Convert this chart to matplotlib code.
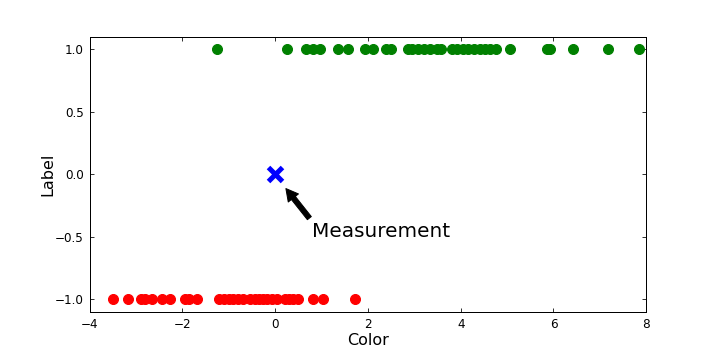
import matplotlib
matplotlib.use("Agg")
import matplotlib.pyplot as plt

# Data
color_pos = [-1.26, 0.26, 0.66, 0.81, 0.96, 1.35, 1.57, 1.94, 2.11, 2.38, 2.50,
             2.86, 2.95, 3.08, 3.21, 3.34, 3.49, 3.58, 3.81, 3.92, 4.05, 4.16,
             4.29, 4.42, 4.52, 4.63, 4.76, 5.07, 5.87, 5.93, 6.43, 7.18, 7.85]
color_neg = [-3.50, -3.18, -2.90, -2.80, -2.65, -2.45, -2.27, -1.95, -1.85, -1.68,
             -1.22, -1.11, -1.00, -0.91, -0.81, -0.70, -0.55, -0.44, -0.35, -0.27,
             -0.18, -0.07, 0.04, 0.21, 0.30, 0.38, 0.49, 0.82, 1.03, 1.72]
label_pos = [1.0] * len(color_pos)
label_neg = [-1.0] * len(color_neg)
measure_x = [0.0]
measure_y = [0.0]
xticks = [-4, -2, 0, 2, 4, 6, 8]
yticks = [-1.0, -0.5, 0.0, 0.5, 1.0]

fig = plt.figure(figsize=(718 / 72, 359 / 72), dpi=72, facecolor="white")
ax = fig.add_axes([0.125, 0.131, 0.775, 0.767])

ax.plot(color_pos, label_pos, "o", color=(0, 0.5, 0), markeredgecolor=(0, 0.5, 0),
        markersize=10, clip_on=False)
ax.plot(color_neg, label_neg, "o", color="red", markeredgecolor="red",
        markersize=10)
ax.plot(measure_x, measure_y, "x", color="blue", markersize=14, markeredgewidth=5)

ax.annotate("Measurement", xy=(0.2, -0.1), xytext=(0.8, -0.5), fontsize=20,
            arrowprops=dict(facecolor="black", shrink=0.05, width=5, headwidth=13))

ax.set_xlim(-4, 8)
ax.set_ylim(-1.1, 1.1)
ax.set_xticks(xticks)
ax.set_yticks(yticks)
ax.set_xticklabels([f"\u2212{abs(t)}" if t < 0 else f"{t}" for t in xticks])
ax.set_yticklabels([f"\u2212{abs(t):.1f}" if t < 0 else f"{t:.1f}" for t in yticks])
ax.tick_params(direction="in", top=True, right=True, labelsize=12, length=4, pad=6)
ax.set_xlabel("Color", fontsize=16, labelpad=2)
ax.set_ylabel("Label", fontsize=16, labelpad=0)
for s in ax.spines.values():
    s.set_linewidth(1.0)

fig.savefig("out.png", dpi=72, facecolor="white")
